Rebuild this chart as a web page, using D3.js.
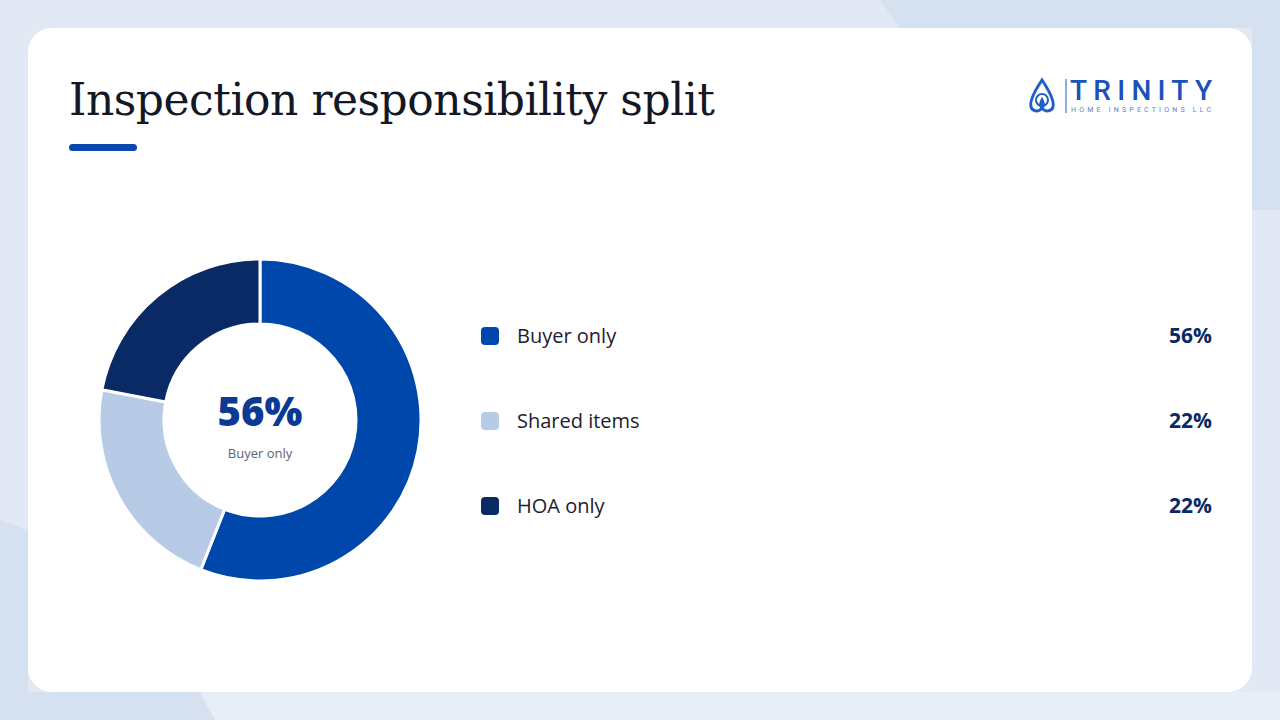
<!DOCTYPE html>
<html><head><meta charset="utf-8">
<script src="https://cdn.jsdelivr.net/npm/d3@7"></script>
<style>body{margin:0;background:#e2e9f4;}svg{display:block}</style></head>
<body><svg id="c" width="1280" height="720"></svg>
<script>
const categories = ["Buyer only","Shared items","HOA only"];
const values = [56,22,22];
const colors = ["#0047ab","#b8cbe6","#0a2a66"];
const labels = ["56%","22%","22%"];

const svg = d3.select("#c");
svg.append("rect").attr("width",1280).attr("height",720).attr("fill","#e2e9f4");
svg.append("path").attr("d","M880,0 L1280,0 L1280,210 L1252,210 L1252,28 L900,28 Z").attr("fill","#d5e0f0");
svg.append("path").attr("d","M0,520 L28,530 L28,692 L200,692 L215,720 L0,720 Z").attr("fill","#d5e0f0");
svg.append("path").attr("d","M215,720 L200,692 L1280,692 L1280,720 Z").attr("fill","#e8eef7");
svg.append("rect").attr("x",28).attr("y",28).attr("width",1224).attr("height",664).attr("rx",24).attr("fill","#fff");

svg.append("text").attr("x",69).attr("y",115).text("Inspection responsibility split")
  .attr("font-family","'DejaVu Serif', serif").attr("font-size",44).attr("fill","#141826").attr("textLength",646);
svg.append("rect").attr("x",69).attr("y",144).attr("width",68).attr("height",7).attr("rx",3.5).attr("fill","#0a47b0");

// logo
const lg = svg.append("g").attr("fill","none").attr("stroke","#1f5fc8").attr("stroke-width",3);
lg.append("path").attr("d","M1042,80 C1034,92 1028,104 1032,109 C1038,114 1046,108 1042,100 C1038,108 1046,114 1052,109 C1056,104 1050,92 1042,80 Z");
lg.append("circle").attr("cx",1042).attr("cy",100).attr("r",6).attr("stroke-width",2);
svg.append("line").attr("x1",1066).attr("x2",1066).attr("y1",79).attr("y2",113).attr("stroke","#1f5fc8").attr("stroke-width",1);
svg.append("text").attr("x",1070).attr("y",100).text("TRINITY").attr("font-family","Roboto, sans-serif").attr("font-weight",500).attr("font-size",28).attr("fill","#1a52b8").attr("textLength",142);
svg.append("text").attr("x",1071).attr("y",112).text("HOME INSPECTIONS LLC").attr("font-family","Roboto, sans-serif").attr("font-size",7).attr("fill","#5a7fc8").attr("textLength",140);

// donut
const pie = d3.pie().sort(null).value(d=>d)(values);
const arc = d3.arc().innerRadius(96).outerRadius(161);
const g = svg.append("g").attr("transform","translate(260,420)");
g.selectAll("path").data(pie).join("path").attr("d",arc)
  .attr("fill",(d,i)=>colors[i]).attr("stroke","#fff").attr("stroke-width",3);
g.append("text").attr("y",6).attr("text-anchor","middle").text(labels[0])
  .attr("font-family","'Open Sans', sans-serif").attr("font-weight",800).attr("font-size",40).attr("fill","#0a3a94");
g.append("text").attr("y",38).attr("text-anchor","middle").text(categories[0])
  .attr("font-family","'Open Sans', sans-serif").attr("font-size",13).attr("fill","#5a6478");

// legend
const y = d3.scalePoint().domain(categories).range([336,506]);
const rows = svg.selectAll("g.row").data(categories).join("g").attr("class","row")
  .attr("transform",d=>`translate(0,${y(d)})`);
rows.append("rect").attr("x",481).attr("y",-9).attr("width",18).attr("height",18).attr("rx",4).attr("fill",(d,i)=>colors[i]);
rows.append("text").attr("x",517).attr("y",7).text(d=>d).attr("font-family","'Open Sans', sans-serif").attr("font-weight",500).attr("font-size",20).attr("fill","#1c2030");
rows.append("text").attr("x",1212).attr("y",7).attr("text-anchor","end").text((d,i)=>labels[i]).attr("font-family","'Open Sans', sans-serif").attr("font-weight",700).attr("font-size",21).attr("fill","#0a2a66");
</script></body></html>
